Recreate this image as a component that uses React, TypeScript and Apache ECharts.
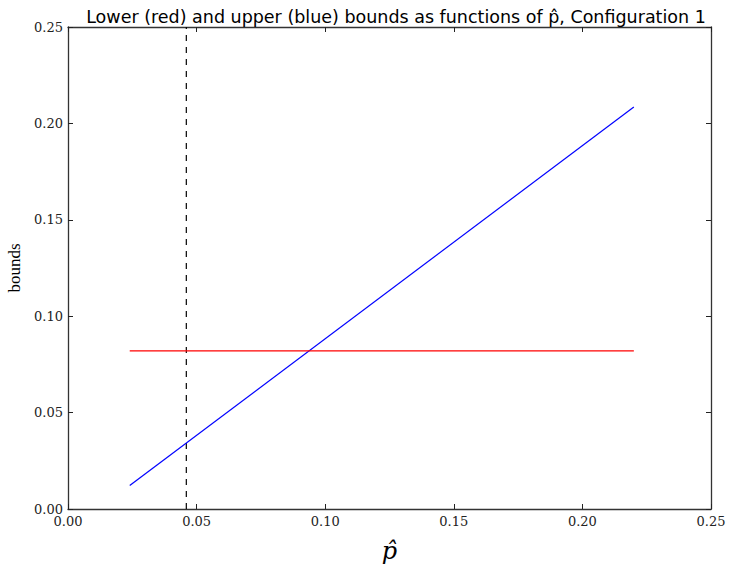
import React, { useEffect, useRef } from "react";
import * as echarts from "echarts";

const upperX = [0.024, 0.22];
const upperY = [0.0122, 0.2085];
const lowerX = [0.024, 0.22];
const lowerY = [0.082, 0.082];
const dashedX = [0.046, 0.046];
const dashedY = [0, 0.25];

const serif = "DejaVu Serif";

function mkAxisLine() {
  return { show: true, onZero: false, lineStyle: { color: "#333", width: 1.3 } };
}
function mkTick() {
  return { show: true, inside: true, length: 5, lineStyle: { color: "#222", width: 1 } };
}
function mkLabel(show: boolean, margin: number) {
  return {
    show,
    margin,
    fontFamily: serif,
    fontSize: 13,
    color: "#222",
    formatter: (v: number) => v.toFixed(2),
  };
}

export default function App() {
  const ref = useRef<HTMLDivElement>(null);
  useEffect(() => {
    if (!ref.current) return;
    const chart = echarts.init(ref.current, null, { renderer: "svg" });
    chart.setOption({
      animation: false,
      backgroundColor: "#fff",
      title: {
        text: "Lower (red) and upper (blue) bounds as functions of p̂, Configuration 1",
        left: 391,
        textAlign: "center",
        top: 3,
        textStyle: { fontFamily: "DejaVu Sans", fontWeight: "normal", fontSize: 17.5, color: "#000" },
      },
      grid: { left: 68, right: 18, top: 27, bottom: 58, outerBoundsMode: "none", containLabel: false },
      xAxis: [
        {
          type: "value",
          min: 0,
          max: 0.25,
          interval: 0.05,
          position: "bottom",
          axisLine: mkAxisLine(),
          axisTick: mkTick(),
          splitLine: { show: false },
          axisLabel: mkLabel(true, 6),
          name: "p̂",
          nameLocation: "middle",
          nameGap: 30,
          nameTextStyle: { fontFamily: "DejaVu Serif", fontStyle: "italic", fontSize: 24, color: "#000" },
        },
        {
          type: "value",
          min: 0,
          max: 0.25,
          interval: 0.05,
          position: "top",
          axisLine: mkAxisLine(),
          axisTick: mkTick(),
          splitLine: { show: false },
          axisLabel: { show: false },
        },
      ],
      yAxis: [
        {
          type: "value",
          min: 0,
          max: 0.25,
          interval: 0.05,
          position: "left",
          axisLine: mkAxisLine(),
          axisTick: mkTick(),
          splitLine: { show: false },
          axisLabel: mkLabel(true, 5),
          name: "bounds",
          nameLocation: "middle",
          nameGap: 42,
          nameRotate: 90,
          nameTextStyle: { fontFamily: "Liberation Serif", fontSize: 17, color: "#000" },
        },
        {
          type: "value",
          min: 0,
          max: 0.25,
          interval: 0.05,
          position: "right",
          axisLine: mkAxisLine(),
          axisTick: mkTick(),
          splitLine: { show: false },
          axisLabel: { show: false },
        },
      ],
      series: [
        {
          type: "line",
          name: "threshold",
          data: dashedX.map((x, i) => [x, dashedY[i]]),
          showSymbol: false,
          silent: true,
          lineStyle: { color: "#000", type: [6, 6], width: 1.2 },
        },
        {
          type: "line",
          name: "upper",
          data: upperX.map((x, i) => [x, upperY[i]]),
          showSymbol: false,
          lineStyle: { color: "#0000ff", width: 1.2 },
        },
        {
          type: "line",
          name: "lower",
          data: lowerX.map((x, i) => [x, lowerY[i]]),
          showSymbol: false,
          lineStyle: { color: "#ff0000", width: 1.2 },
        },
      ],
    });
    return () => chart.dispose();
  }, []);
  return <div ref={ref} style={{ width: 729, height: 567, position: "absolute", left: 0, top: 0 }} />;
}
